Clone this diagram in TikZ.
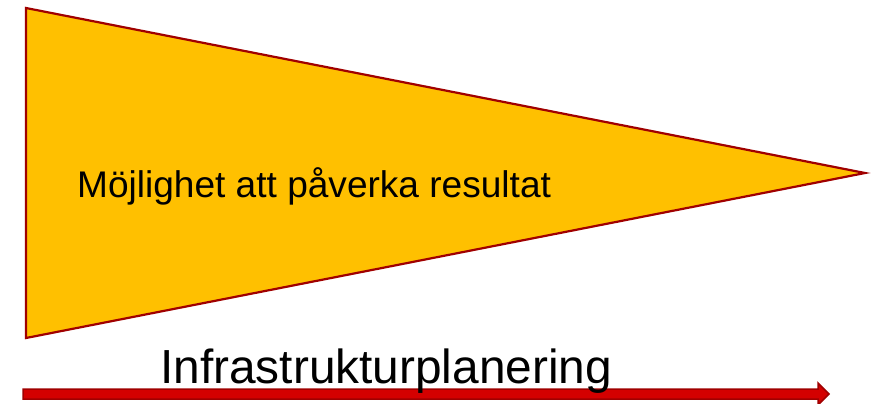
\documentclass[tikz,border=0pt]{standalone}
\usepackage{fontspec}
\setmainfont{Liberation Sans}
\definecolor{triFill}{HTML}{FFC000}
\definecolor{darkRed}{HTML}{A00000}
\definecolor{arrowRed}{HTML}{D40000}
\tikzset{
  label text/.style={inner sep=0pt, anchor=base west, text=black},
}
\begin{document}
\begin{tikzpicture}[x=1bp,y=-1bp]
\useasboundingbox (0,0) rectangle (879,403);
% triangle
\draw[darkRed, line width=2.2bp, fill=triFill, line join=miter]
  (26,8) -- (865,173) -- (26,338) -- cycle;
% block arrow
\draw[darkRed, line width=1.5bp, fill=arrowRed, line join=miter]
  (23,389) -- (818,389) -- (818,383) -- (829,394) -- (818,405) -- (818,399) -- (23,399) -- cycle;
\node[label text, font=\fontsize{37.2}{44}\selectfont] (lbl) at (77,197) {Möjlighet att påverka resultat};
\node[label text, font=\fontsize{48}{56}\selectfont] (plan) at (160,383) {Infrastrukturplanering};
\end{tikzpicture}
\end{document}
